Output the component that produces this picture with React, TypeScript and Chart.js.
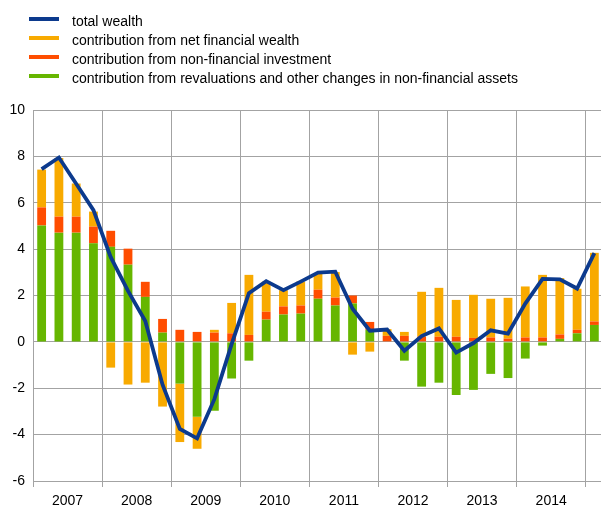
import React, { useEffect, useRef } from 'react';
import { Chart, registerables } from 'chart.js';

Chart.register(...registerables);

const quarters = [
  '2007 Q1', '2007 Q2', '2007 Q3', '2007 Q4',
  '2008 Q1', '2008 Q2', '2008 Q3', '2008 Q4',
  '2009 Q1', '2009 Q2', '2009 Q3', '2009 Q4',
  '2010 Q1', '2010 Q2', '2010 Q3', '2010 Q4',
  '2011 Q1', '2011 Q2', '2011 Q3', '2011 Q4',
  '2012 Q1', '2012 Q2', '2012 Q3', '2012 Q4',
  '2013 Q1', '2013 Q2', '2013 Q3', '2013 Q4',
  '2014 Q1', '2014 Q2', '2014 Q3', '2014 Q4',
  '2015 Q1',
];

const yearLabels = ['2007', '2008', '2009', '2010', '2011', '2012', '2013', '2014'];

const totalWealth = [
  7.45, 7.95, 6.82, 5.68,
  3.65, 2.2, 0.9, -1.85,
  -3.75, -4.16, -2.47, -0.1,
  2.1, 2.62, 2.23, 2.6,
  2.99, 3.03, 1.43, 0.48,
  0.53, -0.38, 0.25, 0.58,
  -0.46, -0.05, 0.5, 0.36,
  1.65, 2.72, 2.7, 2.3,
  3.83,
];

const netFinancialWealth = [
  1.63, 2.53, 1.43, 0.65,
  -1.11, -1.84, -1.76, -2.79,
  -2.52, -1.38, 0.12, 1.31,
  2.59, 1.3, 0.7, 1.03,
  0.72, 1.1, -0.55, -0.42,
  0.29, 0.17, 1.93, 2.11,
  1.59, 1.86, 1.67, 1.76,
  2.2, 2.7, 2.43, 1.77,
  2.96,
];

const nonFinancialInvestment = [
  0.78, 0.69, 0.69, 0.72,
  0.69, 0.69, 0.65, 0.59,
  0.52, 0.43, 0.4, 0.37,
  0.3, 0.34, 0.35, 0.35,
  0.39, 0.34, 0.34, 0.34,
  0.26, 0.26, 0.23, 0.22,
  0.22, 0.17, 0.19, 0.14,
  0.19, 0.19, 0.19, 0.15,
  0.15,
];

const revaluations = [
  5.02, 4.71, 4.71, 4.25,
  4.1, 3.33, 1.94, 0.4,
  -1.8, -3.23, -2.97, -1.58,
  -0.81, 0.96, 1.18, 1.22,
  1.86, 1.57, 1.66, 0.52,
  0.0, -0.81, -1.93, -1.76,
  -2.29, -2.07, -1.38, -1.56,
  -0.72, -0.16, 0.13, 0.37,
  0.73,
];

const Y_MIN = -6;
const Y_MAX = 10;
const Y_STEP = 2;

const BLUE = '#0c3a8d';
const ORANGE = '#f8aa00';
const RED = '#ff4d00';
const GREEN = '#66b600';
const GRID = '#a3a3a3';
const FONT = "'Liberation Sans', Arial, sans-serif";

const legendItems = [
  { label: 'total wealth', color: BLUE },
  { label: 'contribution from net financial wealth', color: ORANGE },
  { label: 'contribution from non-financial investment', color: RED },
  { label: 'contribution from revaluations and other changes in non-financial assets', color: GREEN },
];

export default function App() {
  const canvasRef = useRef<HTMLCanvasElement>(null);

  useEffect(() => {
    const canvas = canvasRef.current;
    if (!canvas) return;
    const chart = new Chart(canvas, {
      type: 'bar',
      data: {
        labels: quarters,
        datasets: [
          {
            type: 'line',
            label: legendItems[0].label,
            data: totalWealth,
            borderColor: BLUE,
            backgroundColor: BLUE,
            borderWidth: 3.8,
            pointRadius: 0,
            tension: 0,
            fill: false,
            stack: 'total',
            order: 0,
          } as any,
          {
            label: legendItems[3].label,
            data: revaluations,
            backgroundColor: GREEN,
            stack: 'bars',
            order: 1,
          },
          {
            label: legendItems[2].label,
            data: nonFinancialInvestment,
            backgroundColor: RED,
            stack: 'bars',
            order: 2,
          },
          {
            label: legendItems[1].label,
            data: netFinancialWealth,
            backgroundColor: ORANGE,
            stack: 'bars',
            order: 3,
          },
        ],
      },
      options: {
        responsive: false,
        animation: false,
        devicePixelRatio: 1,
        layout: { padding: { top: 110, left: 0, right: 0, bottom: 0 } },
        datasets: {
          bar: { barPercentage: 0.51, categoryPercentage: 1.0 },
        },
        plugins: {
          legend: { display: false },
          tooltip: { enabled: false },
        },
        scales: {
          x: {
            stacked: true,
            border: { display: false },
            grid: {
              offset: true,
              color: (ctx: any) => (ctx.index % 4 === 0 ? GRID : 'rgba(0,0,0,0)'),
              lineWidth: 1,
              drawTicks: true,
              tickLength: 6,
            },
            ticks: {
              autoSkip: false,
              maxRotation: 0,
              minRotation: 0,
              labelOffset: 8.63,
              padding: 6,
              color: '#000',
              font: { family: FONT, size: 14 },
              callback: (_v: any, i: number) => (i % 4 === 1 ? yearLabels[(i - 1) / 4] : ''),
            },
            afterFit: (scale: any) => {
              scale.height = 25;
            },
          },
          y: {
            stacked: true,
            min: Y_MIN,
            max: Y_MAX,
            border: { display: false },
            grid: { color: GRID, lineWidth: 1, drawTicks: false },
            ticks: {
              stepSize: Y_STEP,
              padding: 8,
              color: '#000',
              font: { family: FONT, size: 14 },
            },
            afterFit: (scale: any) => {
              scale.width = 33;
            },
          },
        },
      },
    });
    return () => chart.destroy();
  }, []);

  return (
    <div
      style={{
        position: 'absolute',
        left: 0,
        top: 0,
        width: 601,
        height: 506,
        overflow: 'hidden',
        background: '#fff',
        fontFamily: FONT,
      }}
    >
      <canvas ref={canvasRef} width={603} height={506} style={{ position: 'absolute', left: 0, top: 0 }} />
      {legendItems.map((item, i) => (
        <React.Fragment key={item.label}>
          <div
            style={{
              position: 'absolute',
              left: 29,
              top: 17 + 19 * i,
              width: 30,
              height: 4,
              background: item.color,
            }}
          />
          <div
            style={{
              position: 'absolute',
              left: 72,
              top: 11.5 + 19 * i,
              fontSize: 14,
              lineHeight: '19px',
              color: '#000',
              whiteSpace: 'nowrap',
            }}
          >
            {item.label}
          </div>
        </React.Fragment>
      ))}
    </div>
  );
}
